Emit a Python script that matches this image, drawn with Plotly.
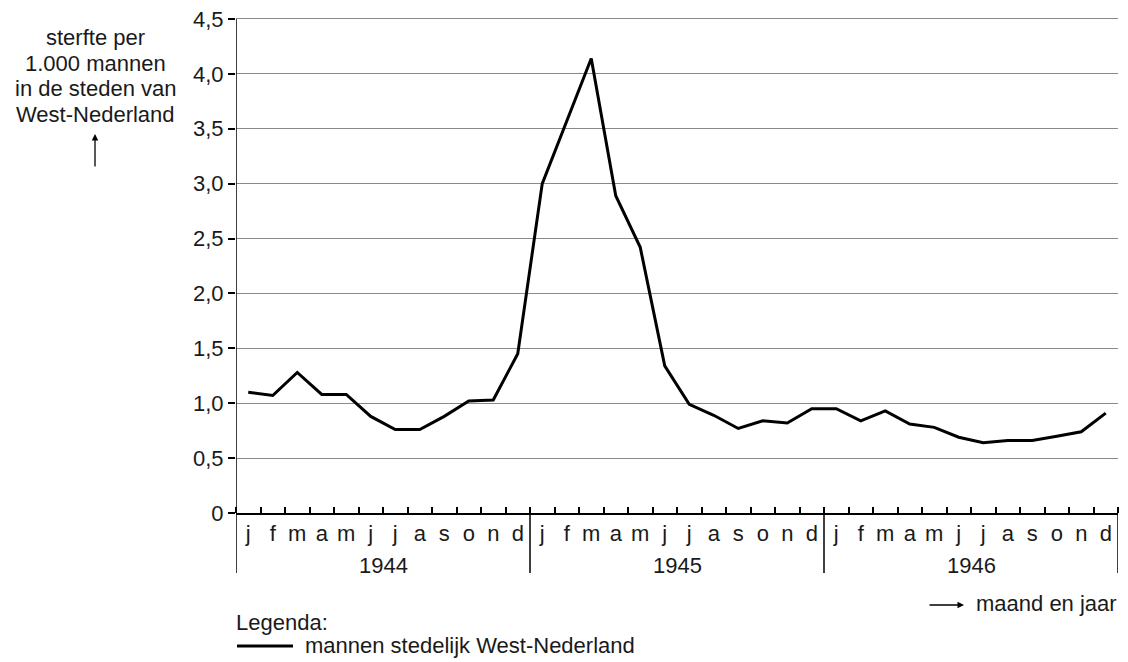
import plotly.graph_objects as go

months = ["j", "f", "m", "a", "m", "j", "j", "a", "s", "o", "n", "d"]
years = ["1944", "1945", "1946"]
values_1944 = [1.10, 1.07, 1.28, 1.08, 1.08, 0.88, 0.76, 0.76, 0.88, 1.02, 1.03, 1.45]
values_1945 = [3.00, 3.57, 4.14, 2.89, 2.42, 1.34, 0.99, 0.89, 0.77, 0.84, 0.82, 0.95]
values_1946 = [0.95, 0.84, 0.93, 0.81, 0.78, 0.69, 0.64, 0.66, 0.66, 0.70, 0.74, 0.91]
y_tick_values = [0, 0.5, 1.0, 1.5, 2.0, 2.5, 3.0, 3.5, 4.0, 4.5]
y_tick_labels = ["0", "0,5", "1,0", "1,5", "2,0", "2,5", "3,0", "3,5", "4,0", "4,5"]
y_title_lines = ["sterfte per", "1.000 mannen", "in de steden van", "West-Nederland"]
series_name = "mannen stedelijk West-Nederland"

values = values_1944 + values_1945 + values_1946
x_idx = list(range(len(values)))
month_labels = months * len(years)

FONT = "Liberation Sans, Arial, sans-serif"
TXT = "#1a1a1a"
FS = 22

# page layout (the page body has an 8px margin)
OFF = 8
W, H = 1128 - OFF, 662 - OFF
Y_MAX = 4.5
Y_TOP = 4.6                      # axis range top, a little above the last tick
PL, PR, PB = 236, 1118, 513      # plot area in page pixels
Y45 = 19                         # page y of the 4,5 tick
unit = (PB - Y45) / Y_MAX
PT = PB - unit * Y_TOP
ph = PB - PT
pw = PR - PL


def px(page_x):
    return (page_x - PL) / pw


def py(page_y):
    return (PB - page_y) / ph


fig = go.Figure()
fig.add_trace(go.Scatter(
    x=x_idx, y=values, mode="lines", name=series_name,
    line=dict(color="black", width=3), showlegend=False,
))

fig.update_layout(
    width=W, height=H,
    margin=dict(l=PL - OFF, r=1128 - PR, t=PT - OFF, b=662 - PB, pad=0),
    paper_bgcolor="white", plot_bgcolor="white",
    font=dict(family=FONT, size=FS, color=TXT),
    showlegend=False,
    xaxis=dict(
        range=[-0.5, len(values) - 0.5],
        tickmode="array", tickvals=x_idx, ticktext=month_labels,
        ticks="", showgrid=False, zeroline=False,
        showline=True, linecolor="black", linewidth=1.5,
        tickfont=dict(size=FS, color=TXT),
        minor=dict(tickmode="array",
                   tickvals=[i - 0.5 for i in range(len(values) + 1)],
                   ticks="inside", ticklen=6, tickcolor="black", tickwidth=1.5,
                   showgrid=False),
        fixedrange=True,
    ),
    yaxis=dict(
        range=[0, Y_TOP],
        tickmode="array", tickvals=y_tick_values, ticktext=y_tick_labels,
        ticks="outside", ticklen=7, tickcolor="black", tickwidth=1.5,
        ticklabeloverflow="allow",
        showgrid=True, gridcolor="#8a8a8a", gridwidth=1,
        zeroline=False, showline=False,
        tickfont=dict(size=FS, color=TXT),
        fixedrange=True,
    ),
)

# y axis line from 0 up to 4,5
fig.add_shape(type="line", xref="x", yref="y", x0=-0.5, x1=-0.5, y0=0, y1=Y_MAX,
              line=dict(color="black", width=1.5))

# year separators and year labels
for k, yr in enumerate(years):
    fig.add_shape(type="line", xref="x", yref="paper",
                  x0=12 * k - 0.5, x1=12 * k - 0.5, y0=0, y1=py(573),
                  line=dict(color="black", width=1.5))
    fig.add_annotation(xref="x", yref="paper", x=12 * k + 5.5, y=py(565),
                       text=yr, showarrow=False, yanchor="middle",
                       font=dict(size=FS, color=TXT))
fig.add_shape(type="line", xref="x", yref="paper",
              x0=len(values) - 0.5, x1=len(values) - 0.5, y0=0, y1=py(573),
              line=dict(color="black", width=1.5))

# y-axis title (one annotation per line for tight spacing)
for i, line in enumerate(y_title_lines):
    fig.add_annotation(xref="paper", yref="paper", x=px(95), y=py(38 + 25.5 * i),
                       text=line, showarrow=False, xanchor="center", yanchor="middle",
                       font=dict(size=FS, color=TXT))
fig.add_annotation(xref="paper", yref="paper", x=px(95), y=py(134),
                   ax=0, ay=34, text="", showarrow=True, arrowhead=2,
                   arrowsize=1, arrowwidth=1.3, arrowcolor="black")

# x-axis title
fig.add_annotation(xref="paper", yref="paper", x=px(1119), y=py(603),
                   text="maand en jaar", showarrow=False, xanchor="right", yanchor="middle",
                   font=dict(size=FS, color=TXT))
fig.add_annotation(xref="paper", yref="paper", x=px(964), y=py(605),
                   ax=-36, ay=0, text="", showarrow=True, arrowhead=2,
                   arrowsize=1, arrowwidth=1.3, arrowcolor="black")

# legend
fig.add_annotation(xref="paper", yref="paper", x=px(234), y=py(622),
                   text="Legenda:", showarrow=False, xanchor="left", yanchor="middle",
                   font=dict(size=FS, color=TXT))
fig.add_shape(type="line", xref="paper", yref="paper",
              x0=px(237), x1=px(293), y0=py(646), y1=py(646),
              line=dict(color="black", width=3))
fig.add_annotation(xref="paper", yref="paper", x=px(303), y=py(645),
                   text=series_name, showarrow=False, xanchor="left", yanchor="middle",
                   font=dict(size=FS, color=TXT))

fig.write_html("out.html")
